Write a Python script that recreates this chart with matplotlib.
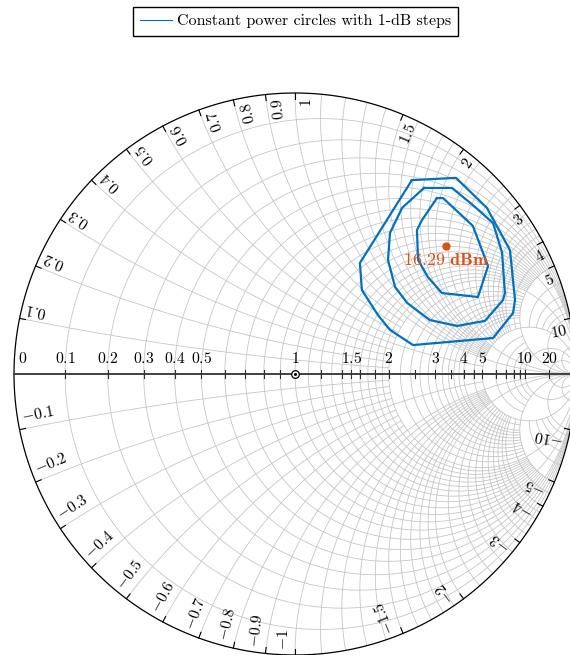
import numpy as np
import matplotlib
matplotlib.use("Agg")
import matplotlib.pyplot as plt
from matplotlib.lines import Line2D

plt.rcParams["mathtext.fontset"] = "cm"
plt.rcParams["font.family"] = "serif"
plt.rcParams["font.serif"] = ["cmr10"]
plt.rcParams["axes.unicode_minus"] = False

# ---- chart data -----------------------------------------------------------
# labelled resistance values on the real axis
r_labels = [0, 0.1, 0.2, 0.3, 0.4, 0.5, 1, 1.5, 2, 3, 4, 5, 10, 20]
# unlabelled resistance ticks on the real axis
r_minor = [0.6, 0.7, 0.8, 0.9, 1.2, 1.4, 1.6, 1.8, 2.5, 3.5, 4.5, 6, 7, 8, 9]
# labelled reactance values on the outer rim
x_labels = [0.1, 0.2, 0.3, 0.4, 0.5, 0.6, 0.7, 0.8, 0.9, 1, 1.5, 2, 3, 4, 5, 10]

# grid lines: groups of values sharing the same clip limit on the other coordinate
INF = np.inf
r_grid = [
    ([0.1, 0.2, 0.3, 0.4, 0.5, 1, 2, 5, 10, 20], INF),
    ([0.6, 0.7, 0.8, 0.9, 1.1, 1.2, 1.3, 1.4, 1.5, 1.6, 1.7, 1.8, 1.9,
      2.2, 2.4, 2.6, 2.8, 3, 3.2, 3.4, 3.6, 3.8, 4, 4.5, 6, 7, 8, 9], 5),
]
x_grid = [
    ([1, 2, 5, 10, 20], INF),
    ([0.5, 1.1, 1.2, 1.3, 1.4, 1.5, 1.6, 1.7, 1.8, 1.9, 2.2, 2.4, 2.6, 2.8,
      3, 3.2, 3.4, 3.6, 3.8, 4, 4.5, 6, 7, 8, 9], 5),
    ([0.1, 0.2, 0.3, 0.4, 0.6, 0.7, 0.8, 0.9], 2),
]

# constant power contours, reflection coefficient (real, imag), 1-dB steps
c1_re = [0.505, 0.527, 0.633, 0.687, 0.651, 0.523, 0.473, 0.438, 0.434, 0.452, 0.505]
c1_im = [0.626, 0.626, 0.527, 0.384, 0.274, 0.288, 0.345, 0.406, 0.512, 0.548, 0.626]
c2_re = [0.459, 0.559, 0.633, 0.705, 0.737, 0.747, 0.740, 0.676, 0.577, 0.480, 0.399,
         0.356, 0.331, 0.338, 0.381, 0.459]
c2_im = [0.662, 0.662, 0.601, 0.537, 0.431, 0.288, 0.263, 0.189, 0.171, 0.192, 0.253,
         0.310, 0.406, 0.502, 0.591, 0.662]
c3_re = [0.416, 0.573, 0.683, 0.765, 0.783, 0.776, 0.705, 0.420, 0.338, 0.295, 0.238,
         0.231, 0.416]
c3_im = [0.690, 0.698, 0.591, 0.441, 0.263, 0.217, 0.128, 0.103, 0.157, 0.210, 0.299,
         0.395, 0.690]
contours = [(c1_re, c1_im), (c2_re, c2_im), (c3_re, c3_im)]

# optimum point
p_max_re, p_max_im = 0.537, 0.456
p_max_label = r"$\mathbf{16.29\ dBm}$"
legend_text = "Constant power circles with 1-dB steps"

# ---- styling --------------------------------------------------------------
BLUE = "#0072BD"
ORANGE = "#D95319"
GRID = "#c6c6c6"
PX = 1 / 281.0  # one pixel in chart units
FS = 11.3


def gamma(z):
    return (z - 1) / (z + 1)


fig = plt.figure(figsize=(5.70, 6.55), dpi=100)
ax = fig.add_axes([0, 0, 1, 1])
ax.set_xlim(-295 * PX, 275 * PX)
ax.set_ylim(-281 * PX, 374 * PX)
ax.set_aspect("equal")
ax.axis("off")

# resistance circles
for values, xm in r_grid:
    tmax = np.arctan(xm) if np.isfinite(xm) else np.pi / 2 * 0.99999
    t = np.linspace(-tmax, tmax, 900)
    for r in values:
        g = gamma(r + 1j * np.tan(t))
        if not np.isfinite(xm):
            g = np.concatenate([[1 + 0j], g, [1 + 0j]])
        ax.plot(g.real, g.imag, color=GRID, lw=0.6, zorder=1)

# reactance arcs
for values, rm in x_grid:
    smax = np.arctan(rm) if np.isfinite(rm) else np.pi / 2 * 0.99999
    s = np.linspace(0, smax, 900)
    for x in values:
        for sgn in (1, -1):
            g = gamma(np.tan(s) + 1j * sgn * x)
            if not np.isfinite(rm):
                g = np.concatenate([g, [1 + 0j]])
            ax.plot(g.real, g.imag, color=GRID, lw=0.6, zorder=1)

# outer rim
th = np.linspace(0, 2 * np.pi, 1000)
ax.plot(np.cos(th), np.sin(th), color="black", lw=0.9, zorder=3)

# real axis with its ticks
ax.plot([-1, 1], [0, 0], color="#404040", lw=1.4, zorder=3)
for r in r_labels[1:] + r_minor:
    gx = gamma(r).real
    ax.plot([gx, gx], [-4 * PX, 4 * PX], color="#303030", lw=0.8, zorder=3)
for r in r_labels:
    gx = gamma(r).real
    dx = 9 * PX if r == 0 else 0
    ax.text(gx + dx, 8 * PX, f"${r:g}$", ha="center", va="bottom", fontsize=FS, zorder=4)
ax.plot([0], [0], marker="o", ms=5.5, mfc="white", mec="black", mew=0.9, zorder=5)
ax.plot([0], [0], marker="o", ms=1.2, color="black", zorder=6)

# rim ticks and labels
for xv in x_labels:
    for sgn in (1, -1):
        g = gamma(1j * sgn * xv)
        phi = np.angle(g)
        u = -np.array([np.cos(phi), np.sin(phi)])            # inward
        cw = np.array([np.sin(phi), -np.cos(phi)])           # clockwise along rim
        ax.plot([g.real, g.real + 6 * PX * u[0]], [g.imag, g.imag + 6 * PX * u[1]],
                color="black", lw=0.8, zorder=3)
        pos = (g.real + 5 * PX * u[0] + 4 * PX * cw[0],
               g.imag + 5 * PX * u[1] + 4 * PX * cw[1])
        if sgn > 0:
            ax.text(*pos, f"${xv:g}$", rotation=np.degrees(phi), rotation_mode="anchor",
                    ha="right", va="top", fontsize=FS, zorder=4)
        else:
            ax.text(*pos, f"$-{xv:g}$", rotation=np.degrees(phi) + 180,
                    rotation_mode="anchor", ha="left", va="bottom", fontsize=FS, zorder=4)

# power contours
for cre, cim in contours:
    ax.plot(cre, cim, color=BLUE, lw=1.6, zorder=7)

ax.plot([p_max_re], [p_max_im], "o", color=ORANGE, ms=5, zorder=8)
ax.text(p_max_re, p_max_im - 6 * PX, p_max_label, color=ORANGE,
        ha="center", va="top", fontsize=13, zorder=8)

handle = Line2D([], [], color=BLUE, lw=0.8)
fig.legend([handle], [legend_text], loc="upper center",
           bbox_to_anchor=(0.518, 1 - 7 / 655), borderaxespad=0,
           frameon=True, fancybox=False, edgecolor="black", framealpha=1,
           fontsize=11.5, handlelength=2.0, handletextpad=0.3, borderpad=0.45)

fig.savefig("out.png", dpi=100)
